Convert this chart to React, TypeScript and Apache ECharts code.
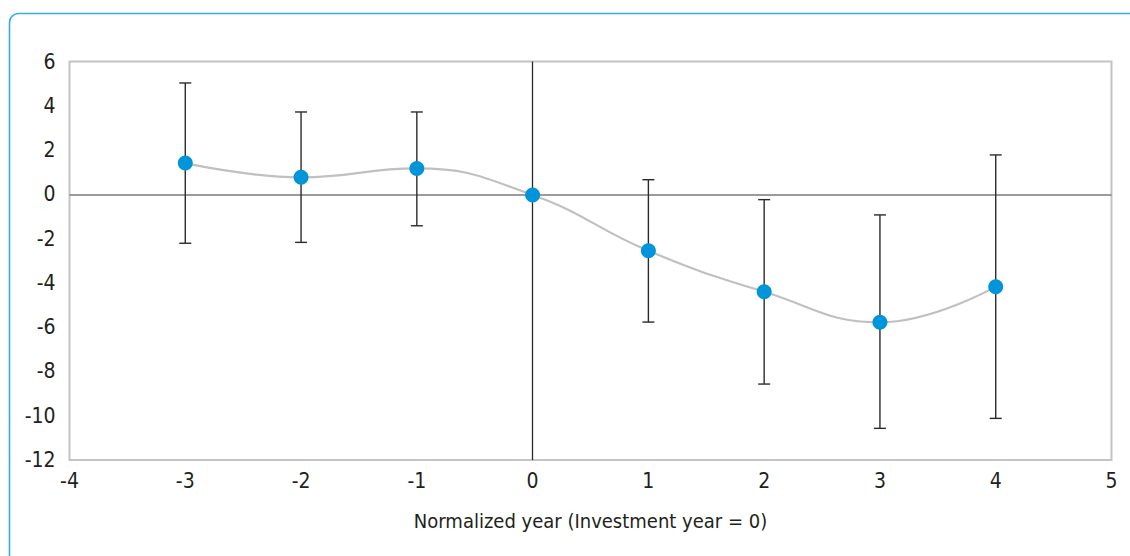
import React, { useEffect, useRef } from "react";
import * as echarts from "echarts";

// Normalized years relative to the investment year
const years = [-3, -2, -1, 0, 1, 2, 3, 4];
// Point estimates
const estimates = [1.41, 0.77, 1.17, -0.03, -2.55, -4.4, -5.78, -4.17];
// Confidence interval bounds
const lowerBounds = [-2.21, -2.17, -1.42, null, -5.77, -8.57, -10.57, -10.12];
const upperBounds = [5.03, 3.72, 3.72, null, 0.66, -0.24, -0.93, 1.78];

const xTicks = { min: -4, max: 5, interval: 1 };
const yTicks = { min: -12, max: 6, interval: 2 };
const xAxisTitle = "Normalized year (Investment year = 0)";

const FONT = "'DejaVu Sans Condensed', 'Liberation Sans Narrow', sans-serif";

export default function App() {
  const ref = useRef<HTMLDivElement>(null);

  useEffect(() => {
    if (!ref.current) return;
    const chart = echarts.init(ref.current, undefined, { renderer: "svg" });

    const pointData = years.map((x, i) => [x, estimates[i]]);
    const barData = years
      .map((x, i) => [x, lowerBounds[i], upperBounds[i]])
      .filter((d) => d[1] !== null && d[2] !== null);

    chart.setOption({
      animation: false,
      backgroundColor: "#ffffff",
      textStyle: { fontFamily: FONT },
      graphic: [
        {
          type: "rect",
          shape: { x: 9.5, y: 13.5, width: 1300, height: 700, r: 9 },
          style: { fill: "none", stroke: "#35ace2", lineWidth: 1.6 },
          silent: true,
          z: 0,
        },
      ],
      grid: {
        left: 69.5,
        top: 61.5,
        right: 18.5,
        bottom: 96,
        show: true,
        borderColor: "#c3c3c5",
        borderWidth: 2,
        backgroundColor: "transparent",
      },
      xAxis: {
        type: "value",
        min: xTicks.min,
        max: xTicks.max,
        interval: xTicks.interval,
        axisLine: { show: false },
        axisTick: { show: false },
        splitLine: { show: false },
        axisLabel: {
          color: "#231f20",
          fontSize: 21,
          fontFamily: FONT,
          margin: 10,
        },
        name: xAxisTitle,
        nameLocation: "middle",
        nameGap: 51,
        nameTextStyle: { color: "#231f20", fontSize: 20, fontFamily: FONT },
      },
      yAxis: {
        type: "value",
        min: yTicks.min,
        max: yTicks.max,
        interval: yTicks.interval,
        axisLine: { show: false },
        axisTick: { show: false },
        splitLine: { show: false },
        axisLabel: {
          color: "#231f20",
          fontSize: 21,
          fontFamily: FONT,
          margin: 14,
          padding: [0, 0, 7, 0],
        },
      },
      series: [
        {
          type: "custom",
          name: "Confidence interval",
          z: 3,
          renderItem: (params: any, api: any) => {
            const x = api.value(0);
            const lo = api.coord([x, api.value(1)]);
            const hi = api.coord([x, api.value(2)]);
            const cap = 6;
            const style = { stroke: "#2b2b2b", lineWidth: 1.4 };
            return {
              type: "group",
              children: [
                { type: "line", shape: { x1: hi[0], y1: hi[1], x2: lo[0], y2: lo[1] }, style },
                { type: "line", shape: { x1: hi[0] - cap, y1: hi[1], x2: hi[0] + cap, y2: hi[1] }, style },
                { type: "line", shape: { x1: lo[0] - cap, y1: lo[1], x2: lo[0] + cap, y2: lo[1] }, style },
              ],
            };
          },
          encode: { x: 0, y: [1, 2] },
          data: barData,
        },
        {
          type: "line",
          name: "Estimate",
          z: 4,
          data: pointData,
          smooth: 0.45,
          symbol: "circle",
          symbolSize: 15,
          itemStyle: { color: "#0095da", borderWidth: 0 },
          lineStyle: { color: "#c0c0c2", width: 2.2 },
          markLine: {
            silent: true,
            symbol: ["none", "none"],
            label: { show: false },
            z: 2,
            data: [
              { yAxis: 0, lineStyle: { color: "#7a7a7a", width: 1.5, type: "solid" } },
              { xAxis: 0, lineStyle: { color: "#2b2b2b", width: 1.3, type: "solid" } },
            ],
          },
        },
      ],
    });

    return () => chart.dispose();
  }, []);

  return (
    <div
      ref={ref}
      style={{ position: "fixed", left: 0, top: 0, width: 1130, height: 556, background: "#fff" }}
    />
  );
}
